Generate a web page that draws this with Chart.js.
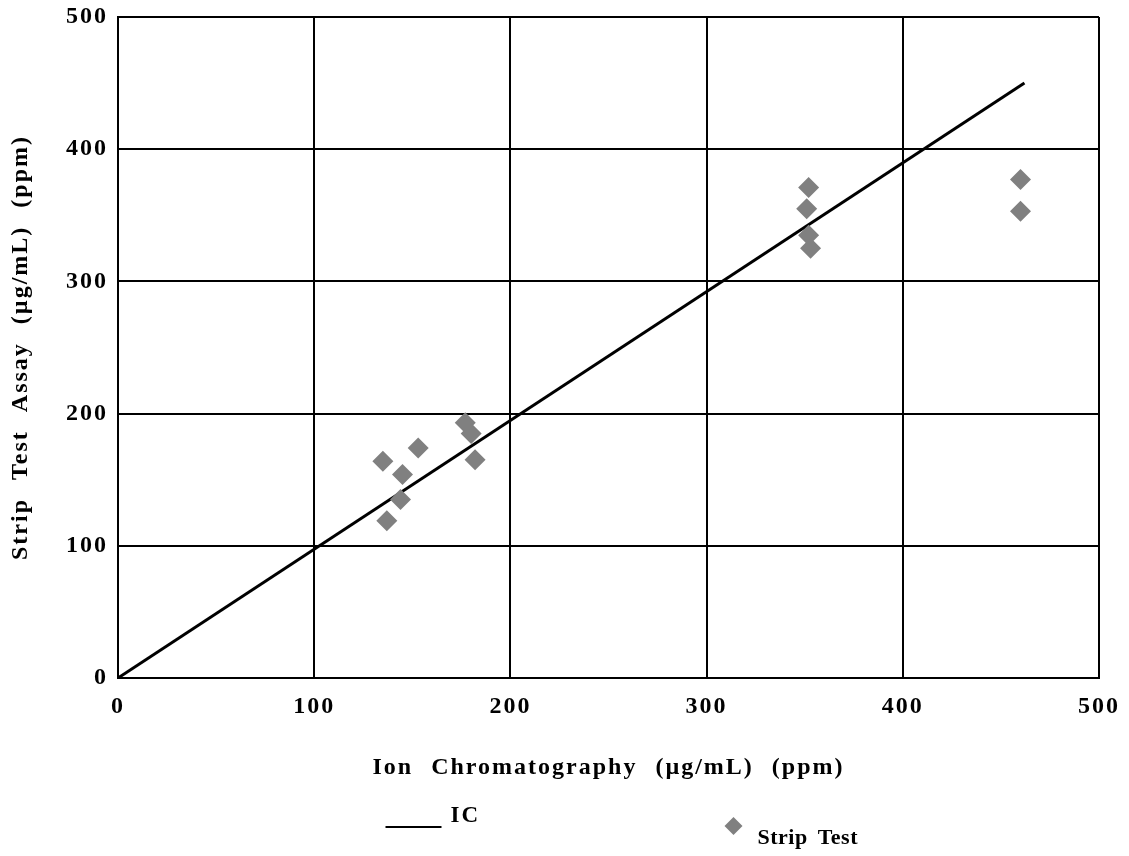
<!DOCTYPE html>
<html><head><meta charset="utf-8">
<script src="https://cdn.jsdelivr.net/npm/chart.js@4.4.1/dist/chart.umd.min.js"></script>
<style>html,body{margin:0;padding:0;background:#fff}</style>
</head><body>
<canvas id="c" width="1129" height="856" style="display:block"></canvas>
<script>
// ---- data ----
const xTickValues = [0, 100, 200, 300, 400, 500];
const yTickValues = [0, 100, 200, 300, 400, 500];
const seriesLabels = ['IC', 'Strip Test'];
const icX = [0, 462];
const icY = [0, 450];
const stripX = [135, 137, 145, 144, 153, 177, 180, 182, 352, 351, 352, 353, 460, 460];
const stripY = [164, 119, 154, 135, 174, 193, 185, 165, 371, 355, 335, 325, 377, 353];
const xTitle = 'Ion Chromatography (\u00b5g/mL) (ppm)';
const yTitle = 'Strip Test Assay (\u00b5g/mL) (ppm)';

const FONT = '"Liberation Serif", "Times New Roman", serif';

const spacing = {
  id: 'spacing',
  beforeLayout(c) { c.ctx.letterSpacing = '2px'; c.ctx.wordSpacing = '10px'; },
  beforeDraw(c) { c.ctx.letterSpacing = '2px'; c.ctx.wordSpacing = '10px'; }
};

const bottomLegend = {
  id: 'bottomLegend',
  afterDraw(c) {
    const ctx = c.ctx, a = c.chartArea;
    const cx = (a.left + a.right) / 2;
    const d0 = c.data.datasets[0], d1 = c.data.datasets[1];
    ctx.save();
    ctx.letterSpacing = '0.5px';
    ctx.wordSpacing = '4px';
    ctx.font = 'bold 22px ' + FONT;
    ctx.textBaseline = 'alphabetic';
    ctx.textAlign = 'left';
    ctx.fillStyle = '#000';
    // IC
    ctx.strokeStyle = d0.borderColor;
    ctx.lineWidth = 2;
    ctx.beginPath();
    ctx.moveTo(cx - 223, 827); ctx.lineTo(cx - 167, 827);
    ctx.stroke();
    ctx.font = 'bold 23px ' + FONT;
    ctx.letterSpacing = '2px';
    ctx.fillText(d0.label, cx - 158, 822);
    // Strip Test
    const px = cx + 125, py = 826, r = 9;
    ctx.fillStyle = d1.backgroundColor;
    ctx.beginPath();
    ctx.moveTo(px - r, py); ctx.lineTo(px, py - r); ctx.lineTo(px + r, py); ctx.lineTo(px, py + r);
    ctx.closePath(); ctx.fill();
    ctx.fillStyle = '#000';
    ctx.font = 'bold 22px ' + FONT;
    ctx.letterSpacing = '0.5px';
    ctx.fillText(d1.label, cx + 149, 844);
    ctx.restore();
  }
};

new Chart(document.getElementById('c'), {
  type: 'scatter',
  data: {
    datasets: [
      {
        type: 'line',
        label: seriesLabels[0],
        data: icX.map((x, i) => ({ x, y: icY[i] })),
        borderColor: '#000',
        borderWidth: 3,
        pointRadius: 0,
        fill: false,
        tension: 0,
        order: 2
      },
      {
        label: seriesLabels[1],
        data: stripX.map((x, i) => ({ x, y: stripY[i] })),
        backgroundColor: '#808080',
        borderColor: '#808080',
        borderWidth: 0,
        pointStyle: 'rectRot',
        pointRadius: 10.5,
        order: 1
      }
    ]
  },
  options: {
    responsive: false,
    animation: false,
    layout: { padding: { top: 17, right: 30, bottom: 60, left: 0 } },
    plugins: { legend: { display: false }, tooltip: { enabled: false } },
    scales: {
      x: {
        type: 'linear', min: 0, max: 500,
        afterBuildTicks: s => { s.ticks = xTickValues.map(v => ({ value: v })); },
        afterFit: s => { s.height = 118; s.paddingLeft = 0; s.paddingRight = 0; },
        grid: { color: '#000', lineWidth: 2, drawTicks: false },
        border: { color: '#000', width: 2 },
        ticks: { color: '#000', padding: 14, maxRotation: 0, font: { family: FONT, size: 24, weight: 'bold' } },
        title: { display: true, text: xTitle, color: '#000', padding: { top: 4, bottom: 14 }, font: { family: FONT, size: 24, weight: 'bold' } }
      },
      y: {
        type: 'linear', min: 0, max: 500,
        afterBuildTicks: s => { s.ticks = yTickValues.map(v => ({ value: v })); },
        afterFit: s => { s.width = 118; s.paddingTop = 0; s.paddingBottom = 0; },
        grid: { color: '#000', lineWidth: 2, drawTicks: false },
        border: { color: '#000', width: 2 },
        ticks: { color: '#000', padding: 10, font: { family: FONT, size: 24, weight: 'bold' } },
        title: { display: true, text: yTitle, color: '#000', padding: { top: 6, bottom: 0 }, font: { family: FONT, size: 24, weight: 'bold' } }
      }
    }
  },
  plugins: [spacing, bottomLegend]
});
</script>
</body></html>
